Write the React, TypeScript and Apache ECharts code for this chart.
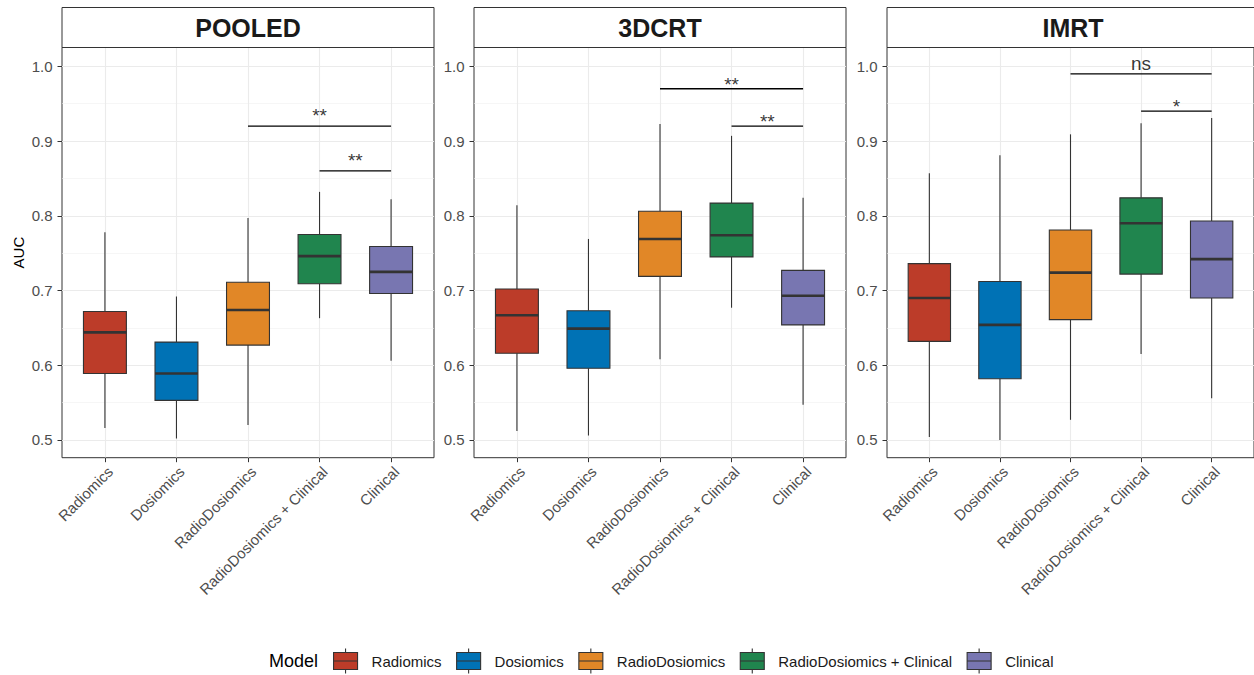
import React, { useEffect, useRef } from "react";
import * as echarts from "echarts";

const FONT = "'Liberation Sans', Arial, sans-serif";

const categories = ["Radiomics", "Dosiomics", "RadioDosiomics", "RadioDosiomics + Clinical", "Clinical"];
const colors = ["#BC3C29", "#0072B5", "#E18727", "#20854E", "#7876B1"];
const panelTitles = ["POOLED", "3DCRT", "IMRT"];

// five-number summaries per category: [min, Q1, median, Q3, max]
const pooledBoxes = [
  [0.516, 0.589, 0.644, 0.672, 0.778],
  [0.502, 0.553, 0.589, 0.631, 0.692],
  [0.520, 0.627, 0.674, 0.711, 0.797],
  [0.663, 0.709, 0.746, 0.775, 0.832],
  [0.606, 0.696, 0.725, 0.759, 0.822],
];
const dcrtBoxes = [
  [0.512, 0.616, 0.667, 0.702, 0.814],
  [0.506, 0.596, 0.649, 0.673, 0.769],
  [0.608, 0.719, 0.769, 0.806, 0.923],
  [0.677, 0.745, 0.774, 0.817, 0.907],
  [0.547, 0.654, 0.693, 0.727, 0.824],
];
const imrtBoxes = [
  [0.504, 0.632, 0.690, 0.736, 0.857],
  [0.500, 0.582, 0.654, 0.712, 0.881],
  [0.527, 0.661, 0.724, 0.781, 0.909],
  [0.615, 0.722, 0.790, 0.824, 0.924],
  [0.556, 0.690, 0.742, 0.793, 0.931],
];

// significance brackets: [fromCategory, toCategory, y, label]
const pooledBrackets: [number, number, number, string][] = [
  [3, 5, 0.92, "**"],
  [4, 5, 0.86, "**"],
];
const dcrtBrackets: [number, number, number, string][] = [
  [3, 5, 0.97, "**"],
  [4, 5, 0.92, "**"],
];
const imrtBrackets: [number, number, number, string][] = [
  [3, 5, 0.99, "ns"],
  [4, 5, 0.94, "*"],
];

const majorTicks = [0.5, 0.6, 0.7, 0.8, 0.9, 1.0];
const minorTicks = [0.55, 0.65, 0.75, 0.85, 0.95];

const panelBoxes = [pooledBoxes, dcrtBoxes, imrtBoxes];
const panelBrackets = [pooledBrackets, dcrtBrackets, imrtBrackets];

export default function App() {
  const ref = useRef<HTMLDivElement>(null);

  useEffect(() => {
    if (!ref.current) return;
    const chart = echarts.init(ref.current, undefined, { renderer: "svg" });

    const lefts = [62, 474, 887];
    const W = 372;
    const TOP = 47.5;
    const H = 410.2;
    const YMIN = 0.4763;
    const YMAX = 1.0252;
    const BOX_W = 0.6;
    // label distance above bracket line (style only)
    const labelDist = [
      [1, 1],
      [-5, -5],
      [1, -5],
    ];

    const grids: any[] = [];
    const xAxes: any[] = [];
    const yAxes: any[] = [];
    const series: any[] = [];
    const graphics: any[] = [];

    lefts.forEach((left, p) => {
      grids.push({
        left,
        top: TOP,
        width: W,
        height: H,
        show: true,
        borderColor: "#333333",
        borderWidth: 1,
        backgroundColor: "transparent",
      });
      xAxes.push({
        type: "value",
        gridIndex: p,
        min: 0.4,
        max: 5.6,
        axisLine: { show: false },
        axisTick: { show: true, customValues: [1, 2, 3, 4, 5], length: 4.5, lineStyle: { color: "#333333", width: 1 } },
        axisLabel: {
          show: true,
          customValues: [1, 2, 3, 4, 5],
          formatter: (v: number) => categories[Math.round(v) - 1] ?? "",
          rotate: 45,
          align: "right",
          verticalAlign: "top",
          margin: 6,
          color: "#4d4d4d",
          fontSize: 15,
          fontFamily: FONT,
        },
        splitLine: { show: true, lineStyle: { color: "#ebebeb", width: 1.1 } },
      });
      yAxes.push({
        type: "value",
        gridIndex: p,
        min: YMIN,
        max: YMAX,
        name: p === 0 ? "AUC" : "",
        nameLocation: "middle",
        nameGap: 36,
        nameTextStyle: { color: "#000", fontSize: 15, fontFamily: FONT },
        axisLine: { show: false },
        axisTick: { show: true, customValues: majorTicks, length: 4.5, lineStyle: { color: "#333333", width: 1 } },
        axisLabel: {
          show: true,
          customValues: majorTicks,
          formatter: (v: number) => v.toFixed(1),
          margin: 9.5,
          color: "#4d4d4d",
          fontSize: 15,
          fontFamily: FONT,
        },
        splitLine: { show: true, lineStyle: { color: "#ebebeb", width: 1.1 } },
      });
      yAxes.push({
        type: "value",
        gridIndex: p,
        min: YMIN,
        max: YMAX,
        position: "left",
        axisLine: { show: false },
        axisTick: { show: false, customValues: minorTicks },
        axisLabel: { show: false, customValues: minorTicks },
        splitLine: { show: true, lineStyle: { color: "#f0f0f0", width: 0.6 } },
      });

      const boxes = panelBoxes[p];
      series.push({
        type: "custom",
        xAxisIndex: p,
        yAxisIndex: 2 * p,
        silent: true,
        z: 3,
        encode: { x: 0, y: [1, 2, 3, 4, 5] },
        data: boxes.map((b, i) => [i + 1, ...b]),
        renderItem: (params: any, api: any) => {
          const x = api.value(0);
          const pMin = api.coord([x, api.value(1)]);
          const pQ1 = api.coord([x, api.value(2)]);
          const pMed = api.coord([x, api.value(3)]);
          const pQ3 = api.coord([x, api.value(4)]);
          const pMax = api.coord([x, api.value(5)]);
          const half = api.size([BOX_W, 0])[0] / 2;
          const cx = pMin[0];
          const color = colors[params.dataIndex];
          return {
            type: "group",
            children: [
              { type: "line", shape: { x1: cx, y1: pMin[1], x2: cx, y2: pQ1[1] }, style: { stroke: "#333333", lineWidth: 1.1 } },
              { type: "line", shape: { x1: cx, y1: pQ3[1], x2: cx, y2: pMax[1] }, style: { stroke: "#333333", lineWidth: 1.1 } },
              {
                type: "rect",
                shape: { x: cx - half, y: pQ3[1], width: 2 * half, height: pQ1[1] - pQ3[1] },
                style: { fill: color, stroke: "#333333", lineWidth: 1.1 },
              },
              { type: "line", shape: { x1: cx - half, y1: pMed[1], x2: cx + half, y2: pMed[1] }, style: { stroke: "#333333", lineWidth: 2.6 } },
            ],
          };
        },
      });

      panelBrackets[p].forEach((br) => {
        series.push({
          type: "line",
          xAxisIndex: p,
          yAxisIndex: 2 * p,
          silent: true,
          symbol: "none",
          z: 4,
          lineStyle: { color: "#000", width: 1.3 },
          data: [
            [br[0], br[2]],
            [br[1], br[2]],
          ],
        });
      });
      series.push({
        type: "scatter",
        xAxisIndex: p,
        yAxisIndex: 2 * p,
        silent: true,
        symbolSize: 0,
        z: 5,
        data: panelBrackets[p].map((br, k) => ({
          value: [(br[0] + br[1]) / 2, br[2]],
          name: br[3],
          label: { distance: labelDist[p][k] },
        })),
        label: {
          show: true,
          position: "top",
          distance: 1,
          formatter: "{b}",
          color: "#000",
          fontSize: 19,
          fontFamily: FONT,
        },
      });

      graphics.push({
        type: "rect",
        shape: { x: left, y: 7.5, width: W, height: TOP - 7.5 },
        style: { fill: "#ffffff", stroke: "#333333", lineWidth: 1 },
        z: 10,
      });
      graphics.push({
        type: "text",
        x: left + W / 2,
        y: 28,
        style: {
          text: panelTitles[p],
          fill: "#1a1a1a",
          font: `bold 25px ${FONT}`,
          textAlign: "center",
          textVerticalAlign: "middle",
        },
        z: 11,
      });
    });

    // legend-only series
    categories.forEach((c, i) => {
      series.push({
        type: "custom",
        name: c,
        xAxisIndex: 0,
        yAxisIndex: 0,
        data: [],
        itemStyle: { color: colors[i], borderColor: "#333333", borderWidth: 1.1 },
        renderItem: () => null,
      });
    });

    graphics.push({
      type: "text",
      x: 269,
      y: 661,
      style: {
        text: "Model",
        fill: "#000",
        font: `18px ${FONT}`,
        textAlign: "left",
        textVerticalAlign: "middle",
      },
    });

    chart.setOption({
      animation: false,
      backgroundColor: "#ffffff",
      grid: grids,
      xAxis: xAxes,
      yAxis: yAxes,
      series,
      graphic: graphics,
      legend: {
        left: 333,
        top: 648,
        padding: 0,
        itemWidth: 24,
        itemHeight: 25,
        itemGap: 14.5,
        selectedMode: false,
        icon: "path://M12,0L12,4M0,4L24,4L24,21L0,21ZM0,12.5L24,12.5M12,21L12,25",
        itemStyle: { borderColor: "#333333", borderWidth: 1.1 },
        textStyle: { fontSize: 15, color: "#1a1a1a", fontFamily: FONT, padding: [0, 0, 0, 9] },
        data: categories,
      },
    });

    return () => chart.dispose();
  }, []);

  return <div ref={ref} style={{ position: "absolute", left: 0, top: 0, width: 1254, height: 675 }} />;
}
